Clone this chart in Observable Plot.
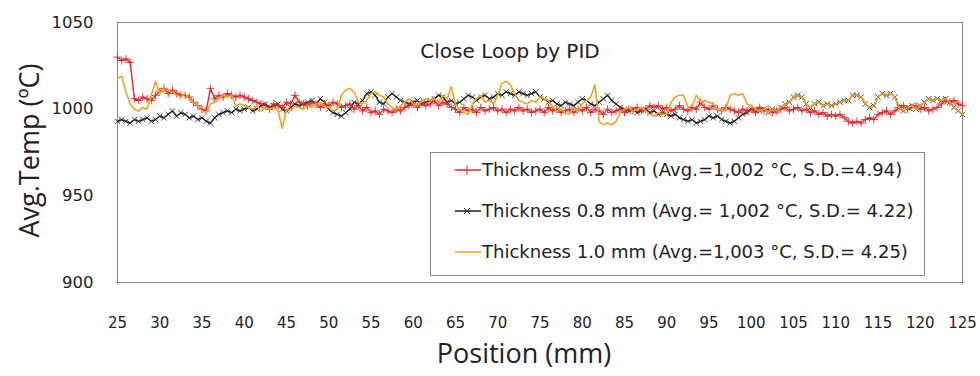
<!DOCTYPE html>
<html><head><meta charset="utf-8">
<script src="https://cdn.jsdelivr.net/npm/d3@7"></script>
<script src="https://cdn.jsdelivr.net/npm/@observablehq/plot@0.6"></script>
<style>
body{margin:0;background:#fff;}
#wrap{position:relative;width:980px;height:376px;font-family:"DejaVu Sans",sans-serif;}
#legend{position:absolute;left:430px;top:152px;width:495px;height:124px;border:1px solid #888;box-sizing:border-box;background:#fff;font-size:18px;color:#222;}
.row{position:absolute;left:24px;display:flex;align-items:center;white-space:nowrap;}
.row svg{margin-right:1px;}
</style></head><body><div id="wrap"></div>
<script>
const xTicks = [25,30,35,40,45,50,55,60,65,70,75,80,85,90,95,100,105,110,115,120,125];
const yTicks = [900,950,1000,1050];
const positions = d3.range(25, 125.001, 0.5);
const red = [
1030,1028,1029,1027,1006,1005,1007,1006,1005,1008,
1010,1012,1009,1011,1009,1008,1008,1007,1004,1002,
1000,999,1012,1006,1008,1007,1009,1008,1007,1008,
1007,1006,1005,1004,1003,1002,1000,1003,1002,1001,
1004,1003,1008,1004,1003,1002,1004,1003,1001,1003,
1002,1004,1003,1001,1002,1003,1000,1002,999,1001,
998,999,997,1000,999,998,1000,999,1001,1002,
1003,1001,1004,1002,1003,1005,1002,1004,1003,1001,
1000,998,1001,999,1000,998,1001,999,1000,1001,
999,1000,998,1000,999,1001,999,1000,998,999,
1000,998,1001,999,1000,998,999,1000,998,1000,
999,1001,998,1000,999,997,1000,998,999,1000,
998,1000,999,1001,999,1000,1002,1001,1002,1000,
1001,999,1000,1002,1000,999,1001,1000,1004,1001,
1000,1002,1000,999,1001,1000,999,998,1000,999,
1000,998,1001,999,1000,998,999,1000,1001,999,
1000,1001,999,1000,998,999,997,998,996,997,
996,997,995,993,992,993,992,994,995,994,
997,998,999,997,999,1001,1002,1000,1001,1002,
1000,1001,999,1000,1001,1003,1005,1004,1005,1003,
1002];
const black = [
993,994,993,992,994,993,994,995,993,994,
996,995,997,999,996,998,997,995,996,994,
995,993,992,995,997,998,999,998,1000,999,
1000,1001,999,1000,1002,1003,1001,1002,1003,1000,
999,1001,1003,1002,1003,1004,1005,1003,1006,1004,
1000,998,997,996,998,1000,1004,1003,1005,1009,
1010,1008,1004,1003,1007,1009,1007,1005,1004,1003,
1004,1005,1003,1004,1005,1006,1008,1007,1004,1005,
1003,1004,1006,1008,1007,1005,1007,1008,1006,1007,
1009,1008,1010,1009,1008,1010,1009,1008,1009,1010,
1007,1006,1004,1005,1003,1002,1004,1003,1002,1004,
1006,1005,1003,1002,1004,1006,1008,1005,1003,1001,
1000,999,1000,998,999,1000,998,999,997,998,
997,996,997,995,994,993,994,992,993,994,
996,995,996,994,993,992,993,995,997,998,
1000,1000,999,1000,998,1000,999,1001,1003,1004,
1007,1008,1007,1003,1001,1003,1004,1002,1003,1002,
1003,1004,1005,1005,1008,1008,1007,1003,1001,1002,
1007,1009,1008,1009,1007,1001,999,1001,1002,1000,
1002,1004,1006,1005,1006,1005,1006,1004,1001,999,
997];
const orange = [
1018,1019,1010,1003,1000,999,1001,1000,1008,1016,
1009,1012,1011,1010,1008,1007,1009,1006,1004,1002,
999,998,1003,1004,1006,1008,1007,1008,1002,1003,
1002,1001,1000,1002,999,1001,1000,1001,999,989,
1000,999,1002,1001,1000,1002,1001,1003,1004,1002,
1001,999,1000,1008,1011,1012,1010,1004,1003,1005,
1009,1010,1008,1007,1003,1001,1000,1002,1004,1006,
1003,1002,1005,1006,1005,1006,1004,1008,1006,1013,
1003,1000,998,997,1003,1006,1008,1004,1005,1003,
1008,1015,1016,1014,1009,1005,1004,1003,1005,1004,
1007,1006,1005,1001,999,1000,998,997,1001,999,
1003,1005,1007,1014,993,991,992,991,993,998,
1000,1001,999,1000,1001,999,997,996,998,997,
997,1004,1007,1008,1008,1001,1002,1008,1004,1005,
1004,1003,1000,999,1000,1008,1009,1008,1009,1003,
1002,1000,999,1000,998,1000,999,1001,1003,1004,
1007,1008,1007,1003,1001,1003,1004,1002,1003,1002,
1003,1004,1005,1005,1008,1008,1007,1003,1001,1002,
1007,1009,1008,1009,1007,1001,999,1001,1002,1000,
1002,1004,1006,1005,1006,1005,1006,1004,1001,999,
997];
const seriesNames = ["Thickness 0.5 mm (Avg.=1,002 °C, S.D.=4.94)","Thickness 0.8 mm (Avg.= 1,002 °C, S.D.= 4.22)","Thickness 1.0 mm (Avg.=1,003 °C, S.D.= 4.25)"];
const colors = ["#e3262a","#1c1c1c","#f2a320"];

const mk = arr => positions.map((p,i)=>({x:p,y:arr[i]}));
const dR = mk(red), dB = mk(black), dO = mk(orange);

const chart = Plot.plot({
  width:980, height:376,
  marginLeft:117, marginRight:18, marginTop:22, marginBottom:94,
  style:{fontFamily:'"DejaVu Sans",sans-serif', fontSize:"16px", color:"#222", background:"#fff"},
  marks:[
    Plot.frame({stroke:"#888", strokeWidth:1}),
    Plot.axisX({ticks:xTicks, tickSize:0, tickPadding:35, label:null, tickFormat:"d", fontSize:15}),
    Plot.axisY({ticks:yTicks, tickSize:0, tickPadding:24, label:null, tickFormat:"d", fontSize:16.5}),
    Plot.line(dB,{x:"x",y:"y",stroke:colors[1],strokeWidth:1.3}),
    Plot.dot(dB,{x:"x",y:"y",symbol:"times",r:2.6,stroke:colors[1],strokeWidth:0.8}),
    Plot.line(dR,{x:"x",y:"y",stroke:colors[0],strokeWidth:1.4}),
    Plot.dot(dR,{x:"x",y:"y",symbol:"plus",r:2.6,stroke:colors[0],strokeWidth:0.9}),
    Plot.line(dO,{x:"x",y:"y",stroke:colors[2],strokeWidth:1.6}),
    Plot.text(["Close Loop by PID"],{frameAnchor:"top",textAnchor:"middle",dx:-30,dy:21,fontSize:20,fill:"#222"}),
    Plot.text(["Position (mm)"],{frameAnchor:"bottom",textAnchor:"middle",dx:-16,dy:80,fontSize:27,fill:"#222",fontFamily:'"Open Sans",sans-serif'}),
    Plot.text(["Avg.Temp (ºC)"],{frameAnchor:"left",textAnchor:"middle",dx:-87,dy:-2,rotate:-90,fontSize:27,fill:"#222",fontFamily:'"Open Sans",sans-serif'})
  ],
  x:{domain:[25,125]},
  y:{domain:[900,1050]}
});
const wrap = document.getElementById("wrap");
wrap.appendChild(chart);
const leg = document.createElement("div");
leg.id = "legend";
const syms = ["plus","times",null];
seriesNames.forEach((name,i)=>{
  const row = document.createElement("div");
  row.className = "row";
  row.style.top = (6 + i*41) + "px";
  let mark = "";
  if (syms[i]==="plus") mark = `<line x1="12" y1="4" x2="12" y2="14" stroke="${colors[i]}" stroke-width="1"/>`;
  if (syms[i]==="times") mark = `<line x1="9" y1="6" x2="15" y2="12" stroke="${colors[i]}" stroke-width="1"/><line x1="15" y1="6" x2="9" y2="12" stroke="${colors[i]}" stroke-width="1"/>`;
  row.innerHTML = `<svg width="26" height="18"><line x1="0" y1="9" x2="26" y2="9" stroke="${colors[i]}" stroke-width="1.5"/>${mark}</svg><span>${name}</span>`;
  leg.appendChild(row);
});
wrap.appendChild(leg);
</script></body></html>
